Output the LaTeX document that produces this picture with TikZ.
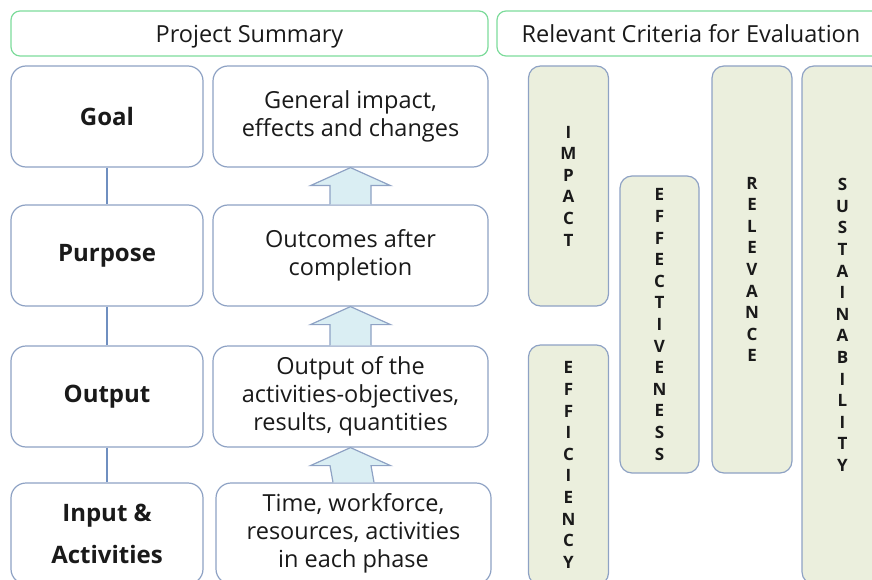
\documentclass[tikz,border=0pt]{standalone}
\usepackage{fontspec}
\setmainfont{Open Sans}
\usetikzlibrary{calc}
\definecolor{hdr}{HTML}{7DDB9B}
\definecolor{bord}{HTML}{8EA2C4}
\definecolor{crit}{HTML}{EBEFDD}
\definecolor{arrf}{HTML}{DAEEF3}
\definecolor{connc}{HTML}{6F8FC0}
\definecolor{txt}{HTML}{1A1A1A}
\begin{document}
\begin{tikzpicture}[x=1pt,y=-1pt,
 hdrbox/.style={draw=hdr, line width=1.2pt, rounded corners=9pt, inner sep=0pt, minimum height=45pt, text height=20pt, text depth=1.7pt, text=txt, font=\fontsize{23.5}{28}\selectfont},
 box/.style={draw=bord, line width=1.2pt, rounded corners=15pt, inner sep=0pt, align=center, fill=white, text=txt},
 lbl/.style={box, font=\bfseries\fontsize{24}{28}\selectfont, minimum width=192pt, minimum height=101pt},
 desc/.style={box, font=\fontsize{23.5}{27.8}\selectfont, minimum width=275pt, minimum height=101pt},
 critbox/.style={draw=bord, fill=crit, line width=1.2pt, rounded corners=12pt, inner sep=0pt, minimum width=80pt, align=center, text=txt, font=\bfseries\fontsize{17}{21.6}\selectfont},
 connline/.style={draw=connc, line width=1.5pt},
 uparr/.style={draw=bord, fill=arrf, line width=1.2pt, line join=miter}]
\useasboundingbox (0,0) rectangle (872,580);
\clip (0,0) rectangle (872,580);
% headers
\node[hdrbox, minimum width=477pt] (hps) at (249.5,33.5) {Project Summary};
\node[hdrbox, minimum width=388pt] (hrc) at (691,33.5) {Relevant Criteria for Evaluation};
% left labels
\node[lbl] (goal) at (107,116.5) {Goal};
\node[lbl] (purp) at (107,255.5) {Purpose};
\node[lbl] (outp) at (107,396.5) {Output};
\node[lbl, font=\bfseries\fontsize{24}{42}\selectfont] (inpt) at (107,533.5) {Input \&\\Activities};
\draw[connline] (goal) -- (purp);
\draw[connline] (purp) -- (outp);
\draw[connline] (outp) -- (inpt);
% right descriptions
\node[desc] (dgen) at (350.5,116.5) {General impact,\\effects and changes};
\node[desc] (dout) at (350.5,255.5) {Outcomes after\\completion};
\node[desc] (dres) at (350.5,396.5) {Output of the\\activities-objectives,\\results, quantities};
\node[desc] (dinp) at (353.5,533.5) {Time, workforce,\\resources, activities\\in each phase};
% block arrows
\newcommand{\blockarrow}[2]{%
  \draw[uparr] ($(#2.north)+(-20.5,0)$) -- ($(#1.south)+(-20.5,18)$) -- ($(#1.south)+(-40,18)$)
    -- (#1.south) -- ($(#1.south)+(40,18)$) -- ($(#1.south)+(20.5,18)$) -- ($(#2.north)+(20.5,0)$);}
\blockarrow{dgen}{dout}
\blockarrow{dout}{dres}
\blockarrow{dres}{dinp}
% criteria
\node[critbox, minimum height=240pt] (impact) at (568.5,186) {I\\M\\P\\A\\C\\T};
\node[critbox, minimum height=240pt] (effic) at (568.5,465) {E\\F\\F\\I\\C\\I\\E\\N\\C\\Y};
\node[critbox, minimum width=79pt, minimum height=297pt] (effect) at (659.5,324.5) {E\\F\\F\\E\\C\\T\\I\\V\\E\\N\\E\\S\\S};
\node[critbox, minimum height=407pt] (relev) at (752,269.5) {R\\E\\L\\E\\V\\A\\N\\C\\E};
\node[critbox, minimum width=81pt, minimum height=518pt] (sust) at (842.5,325) {S\\U\\S\\T\\A\\I\\N\\A\\B\\I\\L\\I\\T\\Y};
\end{tikzpicture}
\end{document}
